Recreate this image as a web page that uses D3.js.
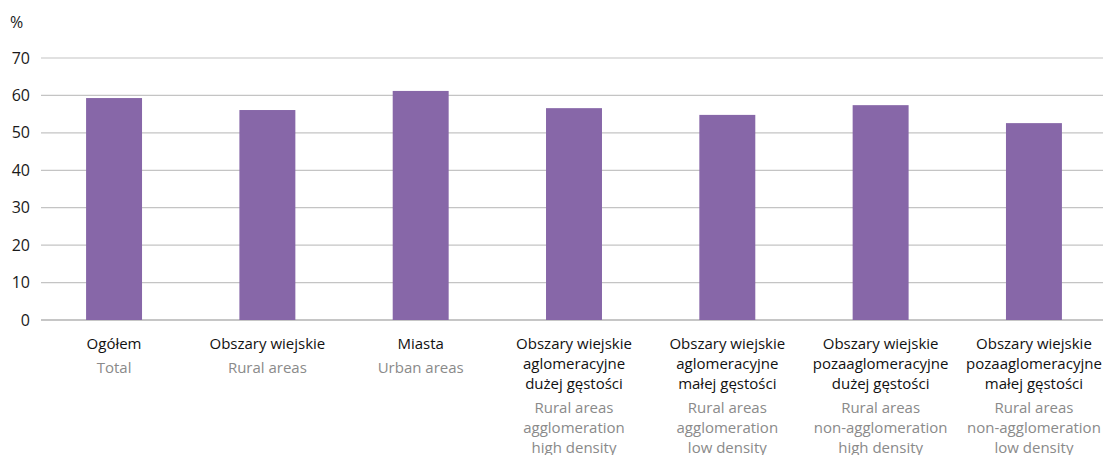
<!DOCTYPE html>
<html><head><meta charset="utf-8">
<script src="https://cdn.jsdelivr.net/npm/d3@7"></script>
<style>
body{margin:0;background:#fff;}
svg{display:block;font-family:"Open Sans",sans-serif;}
</style></head>
<body><svg id="c" width="1103" height="455"></svg>
<script>
const categoriesPL = [
  ["Ogółem"],
  ["Obszary wiejskie"],
  ["Miasta"],
  ["Obszary wiejskie","aglomeracyjne","dużej gęstości"],
  ["Obszary wiejskie","aglomeracyjne","małej gęstości"],
  ["Obszary wiejskie","pozaaglomeracyjne","dużej gęstości"],
  ["Obszary wiejskie","pozaaglomeracyjne","małej gęstości"]
];
const categoriesEN = [
  ["Total"],
  ["Rural areas"],
  ["Urban areas"],
  ["Rural areas","agglomeration","high density"],
  ["Rural areas","agglomeration","low density"],
  ["Rural areas","non-agglomeration","high density"],
  ["Rural areas","non-agglomeration","low density"]
];
const values = [59.3, 56.1, 61.2, 56.6, 54.8, 57.4, 52.6];
const yTicks = [0,10,20,30,40,50,60,70];
const unitLabel = "%";

const svg = d3.select("#c");
const x = d3.scaleBand().domain(d3.range(values.length)).range([37.4, 1110.6]).paddingInner(0.635).paddingOuter(0.3175);
const y = d3.scaleLinear().domain([0,70]).range([320,58]);

// gridlines
svg.append("g").selectAll("line").data(yTicks).join("line")
  .attr("x1",41).attr("x2",1103)
  .attr("y1",d=>y(d)).attr("y2",d=>y(d))
  .attr("stroke",d=>d===0?"#b3b3b3":"#c4c4c4").attr("stroke-width",d=>d===0?1.6:1.2);

// y axis labels
const yAxis = d3.axisLeft(y).tickValues(yTicks).tickSize(0).tickPadding(0);
const ga = svg.append("g").attr("transform","translate(30,0)").call(yAxis);
ga.select(".domain").remove();
ga.selectAll("text").attr("font-size",16).attr("fill","#1a1a1a").attr("font-family","Open Sans, sans-serif");

svg.append("text").attr("x",10).attr("y",28).attr("font-size",16).attr("fill","#1a1a1a").text(unitLabel);

// bars
svg.append("g").selectAll("rect").data(values).join("rect")
  .attr("x",(d,i)=>x(i)).attr("width",x.bandwidth())
  .attr("y",d=>y(d)).attr("height",d=>y(0)-y(d))
  .attr("fill","#8767a8");

// category labels
const lh = 20.2;
values.forEach((v,i)=>{
  const cx = x(i)+x.bandwidth()/2;
  const t = svg.append("text").attr("text-anchor","middle").attr("font-size",15).attr("fill","#111");
  categoriesPL[i].forEach((s,j)=>t.append("tspan").attr("x",cx).attr("y",349+j*lh).text(s));
  const n = categoriesPL[i].length;
  const t2 = svg.append("text").attr("text-anchor","middle").attr("font-size",15).attr("fill","#8a8a8a");
  const y0 = 349 + (n-1)*lh + 23.5;
  categoriesEN[i].forEach((s,j)=>t2.append("tspan").attr("x",cx).attr("y",y0+j*lh).text(s));
});
</script></body></html>
